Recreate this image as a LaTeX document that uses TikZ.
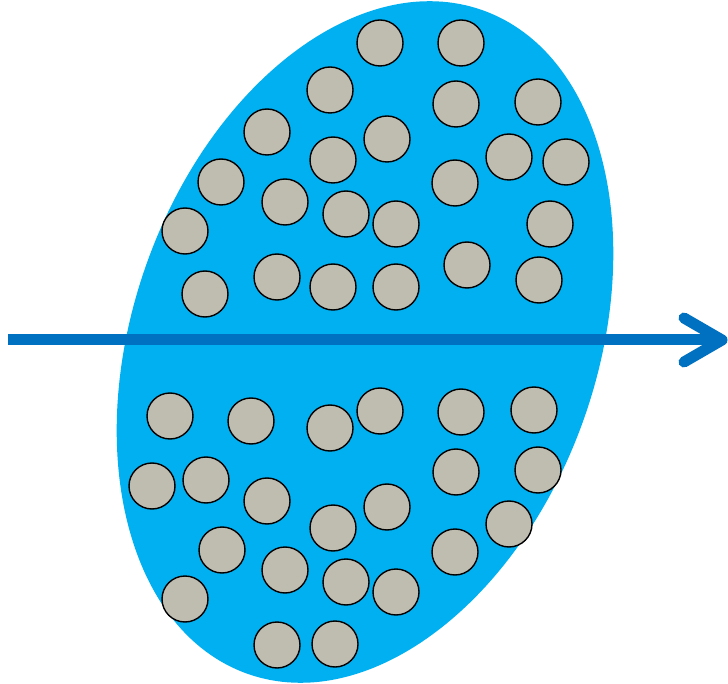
\documentclass[tikz,border=0pt]{standalone}
\definecolor{cellblue}{HTML}{00B0F0}
\definecolor{arrowblue}{HTML}{0070C0}
\definecolor{bead}{HTML}{BFBCB0}
\begin{document}
\begin{tikzpicture}[x=1pt,y=-1pt,
  beadnode/.style={circle,draw=black,fill=bead,line width=1.4pt,minimum size=46pt,inner sep=0pt},
  flow/.style={draw=arrowblue,line width=11pt,line cap=round,line join=round}]
\useasboundingbox (0,0) rectangle (728,684);
\fill[cellblue,rotate around={70.5:(365,342)}] (365,342) ellipse [x radius=352pt, y radius=232pt];
% upper beads
\foreach \n/\x/\y in {u1/380/43,u2/461/43,u3/330/90,u4/456/104,u5/538/102,u6/267/132,u7/387/139,u8/333/160,u9/509/157,u10/566/162,u11/221/182,u12/285/202,u13/346/214,u14/396/224,u15/455/183,u16/550/224,u17/185/231,u18/205/294,u19/277/277,u20/333/287,u21/396/287,u22/467/265,u23/539/280}
  \node[beadnode] (\n) at (\x,\y) {};
% lower beads
\foreach \n/\x/\y in {l1/170/416,l2/251/421,l3/330/428,l4/380/411,l5/461/412,l6/534/410,l7/152/486,l8/206/480,l9/267/501,l10/456/472,l11/538/470,l12/387/507,l13/333/528,l14/509/524,l15/222/550,l16/285/570,l17/346/582,l18/396/592,l19/455/552,l20/185/599,l21/277/645,l22/335/644}
  \node[beadnode] (\n) at (\x,\y) {};
% arrow
\coordinate (start) at (8,340);
\coordinate (tip) at (722,340);
\coordinate (armA) at (684,318);
\coordinate (armB) at (684,362);
\draw[draw=arrowblue,line width=11pt] (start) -- (tip);
\draw[flow] (armA) -- (tip) -- (armB);
\end{tikzpicture}
\end{document}
